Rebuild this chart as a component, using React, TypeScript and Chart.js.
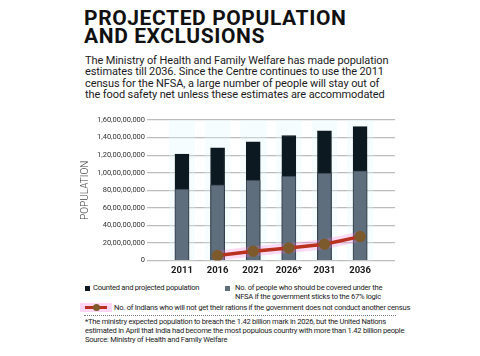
import React, { useEffect, useRef } from "react";
import { Chart, registerables } from "chart.js";

Chart.register(...registerables);

const years = ["2011", "2016", "2021", "2026*", "2031", "2036"];
// values in crore (1 crore = 1,00,00,000)
const totalPopulation = [121.1, 128.3, 135.2, 142.4, 147.7, 152.4];
const nfsaCovered = [81.5, 86.3, 91.6, 96.3, 99.6, 102.1];
const excluded = [null, 5.7, 10.6, 14.4, 18.6, 27.3];
const yTicks = [0, 20, 40, 60, 80, 100, 120, 140, 160];

const titleLines = ["PROJECTED POPULATION", "AND EXCLUSIONS"];
const subtitleLines = [
  "The Ministry of Health and Family Welfare has made population",
  "estimates till 2036. Since the Centre continues to use the 2011",
  "census for the NFSA, a large number of people will stay out of",
  "the food safety net unless these estimates are accommodated",
];
const footLines = [
  "*The ministry expected population to breach the 1.42 billion mark in 2026, but the United Nations",
  "estimated in April that India had become the most populous country with more than 1.42 billion people",
  "Source: Ministry of Health and Family Welfare",
];

function indianFormat(n: number): string {
  const s = String(Math.round(n));
  if (s.length <= 3) return s;
  const last3 = s.slice(-3);
  let rest = s.slice(0, -3);
  const parts: string[] = [];
  while (rest.length > 2) {
    parts.unshift(rest.slice(-2));
    rest = rest.slice(0, -2);
  }
  if (rest.length) parts.unshift(rest);
  return parts.join(",") + "," + last3;
}

const bandPlugin = {
  id: "bands",
  beforeDatasetsDraw(chart: any) {
    const { ctx, chartArea, scales } = chart;
    ctx.save();
    ctx.fillStyle = "rgba(225,248,252,0.3)";
    years.forEach((_, i) => {
      const cx = scales.x.getPixelForValue(i);
      ctx.fillRect(cx - 13, chartArea.top, 26, chartArea.bottom - chartArea.top);
    });
    ctx.restore();
  },
};

export default function App() {
  const ref = useRef<HTMLCanvasElement | null>(null);

  useEffect(() => {
    if (!ref.current) return;
    const chart = new Chart(ref.current, {
      type: "bar",
      data: {
        datasets: [
          {
            type: "line",
            label: "excluded",
            data: years.map((_, i) => ({ x: i, y: excluded[i] })) as any,
            borderColor: "#b8321f",
            borderWidth: 3.5,
            pointRadius: 4,
            pointBackgroundColor: "#7d5a2c",
            pointBorderColor: "#7d5a2c",
            spanGaps: false,
            order: 0,
          } as any,
          {
            type: "line",
            label: "highlight",
            data: years.map((_, i) => ({ x: i, y: excluded[i] })) as any,
            borderColor: "rgba(255,110,215,0.25)",
            borderWidth: 10,
            pointRadius: 0,
            order: 1,
          } as any,
          {
            type: "bar",
            label: "nfsa",
            data: years.map((_, i) => ({ x: i, y: nfsaCovered[i] })) as any,
            backgroundColor: "#5f6e7d",
            borderColor: "#34414d",
            borderWidth: 1,
            barThickness: 14,
            grouped: false,
            order: 2,
          } as any,
          {
            type: "bar",
            label: "total",
            data: years.map((_, i) => ({ x: i, y: totalPopulation[i] })) as any,
            backgroundColor: "#0c1921",
            borderColor: "#0c1921",
            borderWidth: 1,
            barThickness: 14,
            grouped: false,
            order: 3,
          } as any,
        ],
      },
      options: {
        animation: false,
        responsive: false,
        maintainAspectRatio: false,
        layout: { padding: { left: 5, right: 10, top: 12, bottom: 2 } },
        plugins: { legend: { display: false }, tooltip: { enabled: false } },
        scales: {
          x: {
            type: "linear",
            min: -0.4,
            max: 5.4,
            grid: { display: false, drawTicks: false },
            border: { display: false },
            ticks: {
              stepSize: 1,
              includeBounds: false,
              autoSkip: false,
              maxRotation: 0,
              padding: 4,
              color: "#1a1a1a",
              font: { family: "Roboto", size: 9.5, weight: "bold" },
              callback: (v: any) => (Number.isInteger(v) && years[v] !== undefined ? years[v] : null),
            },
          },
          y: {
            min: 0,
            max: 160,
            afterBuildTicks: (axis: any) => {
              axis.ticks = yTicks.map((v) => ({ value: v }));
            },
            grid: { color: "#bcbcbc", lineWidth: 1.2, drawTicks: false },
            border: { display: false },
            ticks: {
              padding: 2,
              color: "#333",
              font: { family: "Roboto", size: 7.5 },
              callback: (v: any) => indianFormat(Number(v) * 1e7),
            },
            title: {
              display: true,
              text: "POPULATION",
              color: "#444",
              font: { family: "Roboto", size: 10, weight: "300" },
              padding: { top: 4, bottom: 4 },
            },
          },
        },
      },
      plugins: [bandPlugin],
    } as any);
    return () => chart.destroy();
  }, []);

  const txt: React.CSSProperties = { position: "absolute", whiteSpace: "nowrap", fontFamily: "Roboto, sans-serif" };

  return (
    <div style={{ position: "absolute", left: 0, top: 0, width: 480, height: 356, background: "#fff", overflow: "hidden" }}>
      <div style={{ ...txt, left: 84, top: 9, fontSize: 21, lineHeight: "18px", fontWeight: 700, color: "#111", letterSpacing: "0.6px" }}>
        {titleLines.map((l) => (
          <div key={l}>{l}</div>
        ))}
      </div>
      <div style={{ ...txt, left: 85, top: 55, fontSize: 11, lineHeight: "11.4px", color: "#1c1c1c", letterSpacing: "-0.1px" }}>
        {subtitleLines.map((l) => (
          <div key={l}>{l}</div>
        ))}
      </div>
      <canvas ref={ref} width={335} height={174} style={{ position: "absolute", left: 70, top: 108, width: 335, height: 174 }} />
      {/* legend */}
      <div style={{ position: "absolute", left: 85, top: 286, width: 5, height: 5, background: "#0c1921" }} />
      <div style={{ ...txt, left: 93, top: 283, fontSize: 7.6, lineHeight: "9px", color: "#222", letterSpacing: "-0.25px" }}>
        Counted and projected population
      </div>
      <div style={{ position: "absolute", left: 225, top: 286, width: 5, height: 5, background: "#5f6e7d" }} />
      <div style={{ ...txt, left: 235, top: 283, fontSize: 7.6, lineHeight: "9px", color: "#222", letterSpacing: "-0.25px" }}>
        <div>No. of people who should be covered under the</div>
        <div>NFSA if the government sticks to the 67% logic</div>
      </div>
      <div style={{ position: "absolute", left: 80, top: 303, width: 32, height: 9, background: "rgba(255,140,225,0.35)" }} />
      <div style={{ position: "absolute", left: 85, top: 306, width: 22, height: 3, background: "#b8321f" }} />
      <div style={{ position: "absolute", left: 93, top: 304, width: 7, height: 7, borderRadius: "50%", background: "#7d5a2c" }} />
      <div style={{ ...txt, left: 114, top: 302.5, fontSize: 7.6, lineHeight: "9px", color: "#222", letterSpacing: "-0.25px" }}>
        No. of Indians who will not get their rations if the government does not conduct another census
      </div>
      <div style={{ position: "absolute", left: 84, top: 315, width: 312, height: 0, borderTop: "1px dotted #777" }} />
      <div style={{ ...txt, left: 85, top: 318, fontSize: 7.6, lineHeight: "8.8px", color: "#222", letterSpacing: "-0.25px" }}>
        {footLines.map((l) => (
          <div key={l}>{l}</div>
        ))}
      </div>
    </div>
  );
}
